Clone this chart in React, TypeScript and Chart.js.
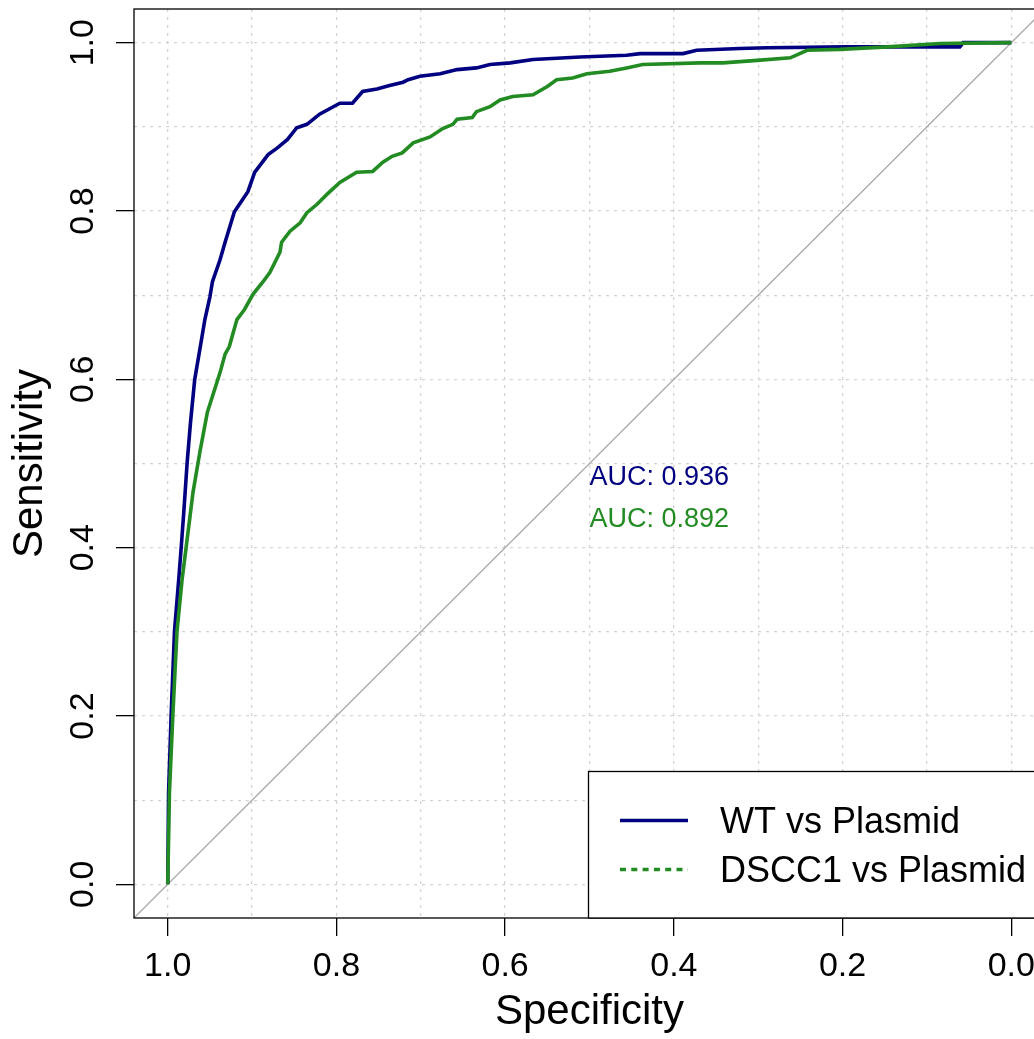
import React, { useEffect, useRef } from "react";
import { Chart, registerables } from "chart.js";

Chart.register(...registerables);

const seriesNames = ["WT vs Plasmid", "DSCC1 vs Plasmid"];
const aucLabels = ["AUC: 0.936", "AUC: 0.892"];

const wtSpecificity = [
  1.0, 0.999, 0.996, 0.992, 0.987, 0.984, 0.981, 0.977, 0.973, 0.968, 0.96, 0.956, 0.95, 0.947, 0.938, 0.932,
  0.921, 0.905, 0.897, 0.881, 0.87, 0.858, 0.847, 0.835, 0.82, 0.796, 0.781, 0.769, 0.752, 0.737, 0.721, 0.715,
  0.701, 0.677, 0.657, 0.634, 0.618, 0.594, 0.567, 0.511, 0.456, 0.44, 0.389, 0.373, 0.322, 0.289, 0.195, 0.061,
  0.057, 0.0,
];
const wtSensitivity = [
  0.0, 0.109, 0.2, 0.301, 0.362, 0.401, 0.442, 0.501, 0.549, 0.6, 0.647, 0.671, 0.698, 0.716, 0.742, 0.763,
  0.799, 0.823, 0.846, 0.867, 0.875, 0.885, 0.899, 0.903, 0.915, 0.928, 0.928, 0.942, 0.945, 0.949, 0.953, 0.956,
  0.96, 0.963, 0.968, 0.97, 0.974, 0.976, 0.98, 0.983, 0.985, 0.987, 0.987, 0.991, 0.993, 0.994, 0.995, 0.995,
  1.0, 1.0,
];

const dsccSpecificity = [
  1.0, 0.998, 0.994, 0.989, 0.983, 0.98, 0.976, 0.97, 0.962, 0.953, 0.938, 0.932, 0.927, 0.918, 0.909, 0.899,
  0.887, 0.879, 0.867, 0.865, 0.855, 0.843, 0.835, 0.823, 0.811, 0.796, 0.776, 0.757, 0.745, 0.734, 0.722, 0.709,
  0.689, 0.674, 0.662, 0.657, 0.639, 0.634, 0.618, 0.606, 0.591, 0.567, 0.55, 0.539, 0.52, 0.503, 0.476, 0.456,
  0.437, 0.369, 0.342, 0.301, 0.262, 0.242, 0.203, 0.147, 0.084, 0.0,
];
const dsccSensitivity = [
  0.0, 0.109, 0.2, 0.301, 0.362, 0.386, 0.418, 0.466, 0.513, 0.561, 0.608, 0.63, 0.639, 0.671, 0.683, 0.701,
  0.716, 0.727, 0.751, 0.763, 0.776, 0.786, 0.798, 0.808, 0.82, 0.834, 0.846, 0.847, 0.858, 0.865, 0.869, 0.881,
  0.888, 0.898, 0.903, 0.909, 0.911, 0.918, 0.924, 0.932, 0.936, 0.938, 0.948, 0.956, 0.958, 0.963, 0.966, 0.97,
  0.974, 0.976, 0.976, 0.979, 0.982, 0.991, 0.992, 0.995, 0.999, 1.0,
];

const diagonalSpecificity = [1.04, -0.04];
const diagonalSensitivity = [-0.04, 1.04];

const gridTicks = [0, 0.1, 0.2, 0.3, 0.4, 0.5, 0.6, 0.7, 0.8, 0.9, 1.0];
const labeledTicks = [0, 0.2, 0.4, 0.6, 0.8, 1.0];

const NAVY = "#000080";
const GREEN = "#228B22";
const FONT = "'Liberation Sans', Arial, Helvetica, sans-serif";

const isLabeled = (v: number) => labeledTicks.some((t) => Math.abs(t - v) < 1e-6);
const toPoints = (xs: number[], ys: number[]) => xs.map((x, i) => ({ x, y: ys[i] }));

const decorPlugin = {
  id: "decor",
  afterDraw(chart: any) {
    const { ctx, chartArea } = chart;
    const xs = chart.scales.x;
    const ys = chart.scales.y;
    ctx.save();
    // plot frame
    ctx.strokeStyle = "#000";
    ctx.lineWidth = 1.3;
    ctx.strokeRect(chartArea.left, chartArea.top, chartArea.right - chartArea.left, chartArea.bottom - chartArea.top);

    // AUC labels
    ctx.font = `27px ${FONT}`;
    ctx.textAlign = "left";
    ctx.textBaseline = "alphabetic";
    const aucX = xs.getPixelForValue(0.5);
    ctx.fillStyle = NAVY;
    ctx.fillText(aucLabels[0], aucX, ys.getPixelForValue(0.5) + 21.5);
    ctx.fillStyle = GREEN;
    ctx.fillText(aucLabels[1], aucX, ys.getPixelForValue(0.45) + 21.5);

    // legend box
    const lx = 588.5;
    const ly = 771.5;
    ctx.fillStyle = "#fff";
    ctx.fillRect(lx, ly, chartArea.right - lx, chartArea.bottom - ly);
    ctx.strokeStyle = "#000";
    ctx.lineWidth = 1.3;
    ctx.strokeRect(lx, ly, chartArea.right - lx, chartArea.bottom - ly);

    ctx.lineWidth = 3.6;
    ctx.strokeStyle = NAVY;
    ctx.beginPath();
    ctx.moveTo(620, 820.5);
    ctx.lineTo(688, 820.5);
    ctx.stroke();
    ctx.strokeStyle = GREEN;
    ctx.setLineDash([6, 5.3]);
    ctx.beginPath();
    ctx.moveTo(620, 869.5);
    ctx.lineTo(688, 869.5);
    ctx.stroke();
    ctx.setLineDash([]);

    ctx.fillStyle = "#000";
    ctx.font = `36px ${FONT}`;
    ctx.fillText(seriesNames[0], 720, 833);
    ctx.fillText(seriesNames[1], 720, 882);
    ctx.restore();
  },
};

export default function App() {
  const canvasRef = useRef<HTMLCanvasElement | null>(null);

  useEffect(() => {
    if (!canvasRef.current) return;
    const chart = new Chart(canvasRef.current, {
      type: "scatter",
      data: {
        datasets: [
          {
            label: seriesNames[1],
            data: toPoints(dsccSpecificity, dsccSensitivity),
            showLine: true,
            borderColor: GREEN,
            backgroundColor: GREEN,
            borderWidth: 3.6,
            pointRadius: 0,
            tension: 0,
          },
          {
            label: seriesNames[0],
            data: toPoints(wtSpecificity, wtSensitivity),
            showLine: true,
            borderColor: NAVY,
            backgroundColor: NAVY,
            borderWidth: 3.6,
            pointRadius: 0,
            tension: 0,
          },
          {
            label: "identity",
            data: toPoints(diagonalSpecificity, diagonalSensitivity),
            showLine: true,
            borderColor: "#A9A9A9",
            borderWidth: 1.3,
            pointRadius: 0,
          },
        ],
      },
      options: {
        responsive: false,
        animation: false,
        devicePixelRatio: 1,
        layout: { padding: { top: 9, right: 35, left: 0, bottom: 0 } },
        plugins: { legend: { display: false }, tooltip: { enabled: false }, title: { display: false } },
        scales: {
          x: {
            type: "linear",
            reverse: true,
            min: -0.04,
            max: 1.04,
            afterBuildTicks: (s: any) => {
              s.ticks = gridTicks.map((v) => ({ value: v }));
            },
            afterFit: (s: any) => {
              s.height = 121;
              s.paddingLeft = 0;
              s.paddingRight = 0;
            },
            grid: {
              color: "#d3d3d3",
              lineWidth: 1.3,
              tickLength: 18,
              tickWidth: 1.3,
              tickColor: (c: any) => (c.tick && isLabeled(c.tick.value) ? "#000" : "rgba(0,0,0,0)"),
            },
            border: { display: false, dash: [3, 5] },
            ticks: {
              autoSkip: false,
              minRotation: 0,
              maxRotation: 0,
              padding: 14,
              color: "#000",
              font: { family: FONT, size: 34, lineHeight: 1 },
              callback: (v: any) => (isLabeled(Number(v)) ? Number(v).toFixed(1) : ""),
            },
            title: {
              display: true,
              text: "Specificity",
              color: "#000",
              font: { family: FONT, size: 42, lineHeight: 1 },
              padding: { top: 0, bottom: 6 },
            },
          },
          y: {
            type: "linear",
            min: -0.04,
            max: 1.04,
            afterBuildTicks: (s: any) => {
              s.ticks = gridTicks.map((v) => ({ value: v }));
            },
            afterFit: (s: any) => {
              s.width = 134;
              s.paddingTop = 0;
              s.paddingBottom = 0;
            },
            grid: {
              color: "#d3d3d3",
              lineWidth: 1.3,
              tickLength: 18,
              tickWidth: 1.3,
              tickColor: (c: any) => (c.tick && isLabeled(c.tick.value) ? "#000" : "rgba(0,0,0,0)"),
            },
            border: { display: false, dash: [3, 5] },
            ticks: {
              autoSkip: false,
              minRotation: 90,
              maxRotation: 90,
              crossAlign: "center",
              padding: 9,
              color: "#000",
              font: { family: FONT, size: 34, lineHeight: 1 },
              callback: (v: any) => (isLabeled(Number(v)) ? Number(v).toFixed(1) : ""),
            },
            title: {
              display: true,
              text: "Sensitivity",
              color: "#000",
              font: { family: FONT, size: 42, lineHeight: 1 },
              padding: { top: 9, bottom: 0 },
            },
          },
        },
      },
      plugins: [decorPlugin],
    });
    return () => chart.destroy();
  }, []);

  return (
    <div style={{ position: "fixed", left: 0, top: 0, width: 1034, height: 1039, overflow: "hidden", background: "#fff" }}>
      <canvas ref={canvasRef} width={1080} height={1039} style={{ display: "block", width: 1080, height: 1039 }} />
    </div>
  );
}
